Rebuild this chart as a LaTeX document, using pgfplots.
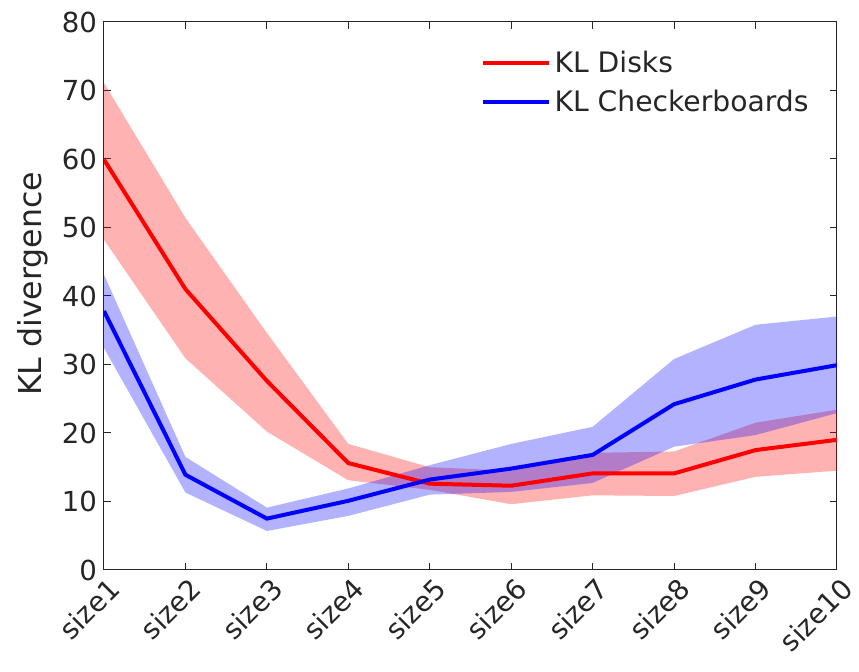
\documentclass[border=0pt]{standalone}
\usepackage{pgfplots}
\pgfplotsset{compat=1.18}
\usepgfplotslibrary{fillbetween}
\usepackage{fontspec}
\setmainfont{DejaVu Sans}
\definecolor{axgray}{RGB}{38,38,38}
\begin{document}
\begin{tikzpicture}
\begin{axis}[
  at={(0,0)}, anchor=south west,
  scale only axis,
  width=366.5pt, height=274pt,
  xmin=0, xmax=9, ymin=0, ymax=80,
  xtick={0,...,9},
  xticklabels={size1,size2,size3,size4,size5,size6,size7,size8,size9,size10},
  ytick={0,10,...,80},
  tick align=inside,
  major tick length=3.5pt,
  axis line style={axgray, line width=0.5pt},
  every tick/.style={axgray, line width=0.5pt},
  tick label style={font=\fontsize{13.8}{16}\selectfont, text=axgray},
  /pgf/number format/assume math mode=true,
  xticklabel style={rotate=45, anchor=north east, inner sep=1pt, yshift=-2pt},
  ylabel={KL divergence},
  ylabel style={font=\fontsize{15.8}{18}\selectfont, text=axgray, at={(ticklabel cs:0.522)}},
  legend style={draw=none, fill=none, at={(0.505,0.962)}, anchor=north west,
    font=\fontsize{14.1}{16}\selectfont, text=axgray, row sep=3pt},
  legend cell align=left,
  legend image code/.code={\draw[#1] (0pt,0pt) -- (33pt,0pt);},
]
% red band
\addplot[name path=ru, draw=none, forget plot] coordinates {
(0,71.1) (1,51.4) (2,34.6) (3,18.4) (4,15.0) (5,14.5) (6,17.1) (7,17.3) (8,21.5) (9,23.4)};
\addplot[name path=rl, draw=none, forget plot] coordinates {
(0,48.2) (1,30.9) (2,20.2) (3,13.1) (4,11.7) (5,9.6) (6,10.9) (7,10.8) (8,13.6) (9,14.5)};
\addplot[fill=red, fill opacity=0.3, draw=none, forget plot] fill between[of=ru and rl];
% red line
\addplot[red, line width=2pt] coordinates {
(0,59.9) (1,41.0) (2,27.6) (3,15.6) (4,12.6) (5,12.3) (6,14.1) (7,14.1) (8,17.5) (9,19.0)};
\addlegendentry{KL Disks}
% blue band
\addplot[name path=bu, draw=none, forget plot] coordinates {
(0,43.1) (1,16.5) (2,9.1) (3,11.9) (4,15.3) (5,18.4) (6,20.9) (7,30.8) (8,35.8) (9,37.0)};
\addplot[name path=bl, draw=none, forget plot] coordinates {
(0,32.4) (1,11.3) (2,5.7) (3,7.9) (4,11.0) (5,11.4) (6,12.7) (7,18.0) (8,19.7) (9,22.9)};
\addplot[fill=blue, fill opacity=0.3, draw=none, forget plot] fill between[of=bu and bl];
% blue line
\addplot[blue, line width=2pt] coordinates {
(0,37.8) (1,13.9) (2,7.5) (3,10.1) (4,13.2) (5,14.8) (6,16.8) (7,24.2) (8,27.8) (9,29.9)};
\addlegendentry{KL Checkerboards}
\end{axis}
\pgfresetboundingbox
\path[use as bounding box] (-52pt,-51pt) rectangle (377.5pt,285pt);
\end{tikzpicture}
\end{document}
